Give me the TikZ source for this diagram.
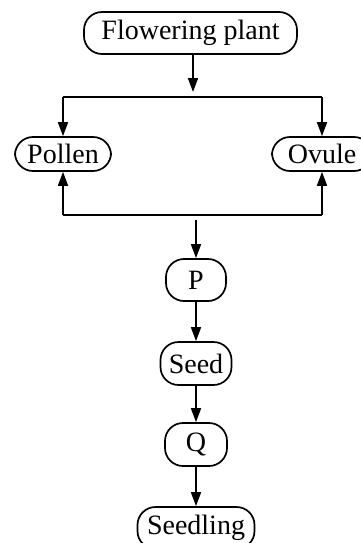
\documentclass[tikz,border=0pt]{standalone}
\usepackage{fontspec}
\setmainfont{Liberation Serif}
\usetikzlibrary{arrows.meta}
\begin{document}
\begin{tikzpicture}[x=1pt,y=-1pt,
  box/.style={draw, line width=1.7pt, rounded corners=18pt, inner sep=0pt, font=\fontsize{28}{30}\selectfont},
  link/.style={line width=1.7pt},
  arr/.style={line width=1.7pt, -{Triangle[length=14pt,width=10pt]}}]
\useasboundingbox (0,0) rectangle (361,543);
\clip (0,0) rectangle (361,543);
\node[box, minimum width=213pt, minimum height=42pt] (fp) at (190.5,33) {Flowering plant};
\node[box, minimum width=96pt, minimum height=34pt] (pollen) at (63,154) {Pollen};
\node[box, minimum width=100pt, minimum height=34pt] (ovule) at (322,154) {Ovule};
\node[box, minimum width=60pt, minimum height=42pt] (p) at (196,280) {P};
\node[box, minimum width=71pt, minimum height=43pt] (seed) at (196,363.5) {Seed};
\node[box, minimum width=62pt, minimum height=43pt] (q) at (196,444.5) {Q};
\node[box, minimum width=117pt, minimum height=42pt] (seedling) at (196,528) {Seedling};
% top split
\coordinate (j1) at (193,92);
\coordinate (h1) at (0,97);
\draw[arr] (fp.south -| j1) -- (j1);
\draw[link] (pollen.north |- h1) -- (ovule.north |- h1);
\draw[arr] (pollen.north |- h1) -- (pollen.north);
\draw[arr] (ovule.north |- h1) -- (ovule.north);
% bottom join
\coordinate (h2) at (0,215);
\coordinate (j2) at (196,220);
\draw[link] (pollen.south |- h2) -- (ovule.south |- h2);
\draw[arr] (pollen.south |- h2) -- (pollen.south);
\draw[arr] (ovule.south |- h2) -- (ovule.south);
\draw[arr] (j2) -- (p.north);
% chain
\draw[arr] (p.south) -- (seed.north);
\draw[arr] (seed.south) -- (q.north);
\draw[arr] (q.south) -- (seedling.north);
\end{tikzpicture}
\end{document}
